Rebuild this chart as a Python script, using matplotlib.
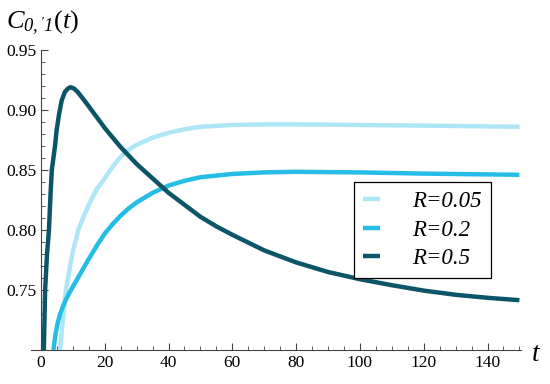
import matplotlib
matplotlib.use("Agg")
import matplotlib.pyplot as plt
from matplotlib.ticker import MultipleLocator

plt.rcParams['font.family'] = ['Liberation Serif', 'DejaVu Serif']
plt.rcParams['mathtext.fontset'] = 'custom'
# only the axis title uses mathtext; digits italic, brackets upright (via sf)
plt.rcParams['mathtext.rm'] = 'Liberation Serif:italic'
plt.rcParams['mathtext.it'] = 'Liberation Serif:italic'
plt.rcParams['mathtext.sf'] = 'Liberation Serif'

# values
t_r005 = [6.0, 6.5, 7.0, 7.8, 9.0, 10.0, 11.7, 13.5, 15, 17.5, 20, 22.5, 25, 27.5, 30,
          35, 40, 45, 50, 60, 70, 80, 90, 100, 120, 150]
c_r005 = [0.700, 0.715, 0.728, 0.750, 0.768, 0.782, 0.800, 0.812, 0.821, 0.834, 0.843,
          0.853, 0.861, 0.867, 0.871, 0.877, 0.881, 0.884, 0.886, 0.8875, 0.888, 0.888,
          0.8878, 0.8875, 0.887, 0.886]

t_r02 = [3.9, 4.5, 5.2, 6.0, 7.0, 8.0, 9.6, 12, 15, 18, 20, 22.5, 25, 27.5, 30, 35, 40,
         45, 50, 60, 70, 80, 100, 120, 150]
c_r02 = [0.700, 0.712, 0.722, 0.730, 0.737, 0.743, 0.751, 0.762, 0.776, 0.789, 0.797,
         0.805, 0.812, 0.818, 0.823, 0.831, 0.837, 0.841, 0.844, 0.8467, 0.848, 0.8485,
         0.848, 0.847, 0.846]

t_r05 = [0.9, 1.3, 1.9, 2.5, 3.0, 3.4, 3.9, 4.4, 4.9, 5.7, 6.5, 7.5, 8.5, 9.3, 10.3,
         11.5, 13, 15, 17.5, 20, 25, 30, 35, 40, 45, 50, 55, 60, 70, 80, 90, 100, 110,
         120, 130, 140, 150]
c_r05 = [0.700, 0.750, 0.780, 0.800, 0.830, 0.850, 0.860, 0.870, 0.883, 0.897, 0.908,
         0.915, 0.918, 0.919, 0.918, 0.915, 0.910, 0.903, 0.894, 0.885, 0.869, 0.855,
         0.843, 0.831, 0.821, 0.811, 0.803, 0.796, 0.783, 0.773, 0.765, 0.759, 0.754,
         0.7495, 0.746, 0.7435, 0.7415]

labels = ['R=0.05', 'R=0.2', 'R=0.5']
colors = ['#aee6f5', '#25bde8', '#0c5568']

fig = plt.figure(figsize=(5.5, 3.84), dpi=100)
ax = fig.add_axes([31.4 / 550, 34 / 384, 489.6 / 550, 300 / 384])

for t, c, lab, col in zip([t_r005, t_r02, t_r05], [c_r005, c_r02, c_r05], labels, colors):
    ax.plot(t, c, color=col, lw=3.2, label=lab, solid_capstyle='butt')

ax.set_xlim(-3, 150.5)
ax.set_ylim(0.70, 0.95)
ax.spines['left'].set_position(('data', 0))
ax.spines['top'].set_visible(False)
ax.spines['right'].set_visible(False)
for s in ['left', 'bottom']:
    ax.spines[s].set_color('#444444')
    ax.spines[s].set_linewidth(0.8)

ax.set_xticks(range(0, 141, 20))
ax.xaxis.set_minor_locator(MultipleLocator(5))
ax.set_yticks([0.75, 0.80, 0.85, 0.90, 0.95])
ax.set_yticklabels(['0.75', '0.80', '0.85', '0.90', '0.95'])
ax.yaxis.set_minor_locator(MultipleLocator(0.01))
ax.tick_params(which='both', direction='in', color='#444444', labelsize=12.5)
ax.tick_params(which='major', length=5, width=0.8)
ax.tick_params(which='minor', length=3, width=0.6)

fig.text(0.010, 0.925, r"$C_{0,{}^{\prime}1}\mathsf{(}t\mathsf{)}$", fontsize=19)
fig.text(0.967, 0.06, "t", fontsize=20, fontstyle='italic')

leg = ax.legend(loc='upper left', bbox_to_anchor=(354 / 550, 1 - 182 / 384),
                bbox_transform=fig.transFigure, borderaxespad=0, fancybox=False,
                edgecolor='black', framealpha=1, handlelength=0.75, handletextpad=1.4,
                labelspacing=0.32, borderpad=0.4,
                prop={'size': 16.5, 'style': 'italic', 'family': 'Liberation Serif'})
leg.get_frame().set_linewidth(0.9)

fig.savefig("out.png", dpi=100)
